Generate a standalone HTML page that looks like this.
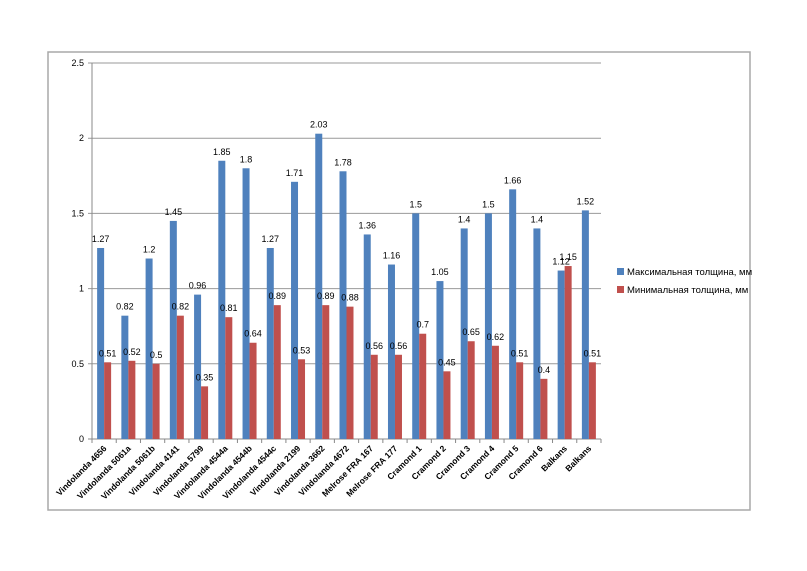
<!DOCTYPE html>
<html><head><meta charset="utf-8"><style>
body{margin:0;background:#fff;}
svg{display:block;font-family:"Liberation Sans",sans-serif;}
</style></head><body>
<svg width="807" height="571">
<rect x="48" y="52" width="702" height="458" fill="#fff" stroke="#a8a8a8" stroke-width="1.5"/>
<g id="grid"></g><g id="bars"></g><g id="labels"></g><g id="xl"></g>
<g>
<rect x="617" y="268" width="7" height="7" fill="#4f81bd"/>
<text x="627" y="275" font-size="9.5">Максимальная толщина, мм</text>
<rect x="617" y="286" width="7" height="7" fill="#c0504d"/>
<text x="627" y="293" font-size="9.5">Минимальная толщина, мм</text>
</g>
</svg>
<script>
const categories=["Vindolanda 4656","Vindolanda 5061a","Vindolanda 5061b","Vindolanda 4141","Vindolanda 5799","Vindolanda 4544a","Vindolanda 4544b","Vindolanda 4544c","Vindolanda 2199","Vindolanda 3662","Vindolanda 4672","Melrose FRA 167","Melrose FRA 177","Cramond 1","Cramond 2","Cramond 3","Cramond 4","Cramond 5","Cramond 6","Balkans","Balkans"];
const maxVals=[1.27,0.82,1.2,1.45,0.96,1.85,1.8,1.27,1.71,2.03,1.78,1.36,1.16,1.5,1.05,1.4,1.5,1.66,1.4,1.12,1.52];
const minVals=[0.51,0.52,0.5,0.82,0.35,0.81,0.64,0.89,0.53,0.89,0.88,0.56,0.56,0.7,0.45,0.65,0.62,0.51,0.4,1.15,0.51];
const yTicks=[0,0.5,1,1.5,2,2.5];
const NS="http://www.w3.org/2000/svg";
const X0=92,X1=601,Y0=439,Y1=63,YMAX=2.5;
const cw=(X1-X0)/categories.length;
const y=v=>Y0-(v/YMAX)*(Y0-Y1);
const xc=i=>X0+cw*(i+0.5);
function mk(t,a,p,txt){const e=document.createElementNS(NS,t);for(const k in a)e.setAttribute(k,a[k]);if(txt!==undefined)e.textContent=txt;p.appendChild(e);return e;}
const G=document.getElementById('grid'),B=document.getElementById('bars'),L=document.getElementById('labels'),XL=document.getElementById('xl');
yTicks.forEach(t=>{
 const ln=mk('line',{x1:X0-4,x2:X1,y1:y(t),y2:y(t),stroke:t===0?'#888':'#999','stroke-width':1},G);
 
 
 const tx=mk('text',{x:X0-8,y:y(t)+3,'font-size':9,'text-anchor':'end'},G,String(t));
 
 
});
const ax=mk('line',{x1:X0,x2:X0,y1:Y1,y2:Y0,stroke:'#888'},G);


for(let i=0;i<=categories.length;i++){
 const tk=mk('line',{x1:X0+cw*i,x2:X0+cw*i,y1:Y0,y2:Y0+4,stroke:'#888'},G);
 
 
}
const bw=7;
categories.forEach((c,i)=>{
 const cx=xc(i);
 const b1=mk('rect',{x:cx-bw,y:y(maxVals[i]),width:bw,height:Y0-y(maxVals[i]),fill:'#4f81bd'},B);
 
 
 const b2=mk('rect',{x:cx,y:y(minVals[i]),width:bw,height:Y0-y(minVals[i]),fill:'#c0504d'},B);
 
 
 const t1=mk('text',{x:cx-bw/2,y:y(maxVals[i])-6,'font-size':9,'text-anchor':'middle'},L,String(maxVals[i]));
 
 
 const t2=mk('text',{x:cx+bw/2,y:y(minVals[i])-6,'font-size':9,'text-anchor':'middle'},L,String(minVals[i]));
 
 
 const xt=mk('text',{x:cx+3,y:Y0+10,'font-size':8.5,'font-weight':'bold','text-anchor':'end',transform:`rotate(-45 ${cx+3} ${Y0+10})`},XL,c);
 
 
});
</script>
</body></html>
